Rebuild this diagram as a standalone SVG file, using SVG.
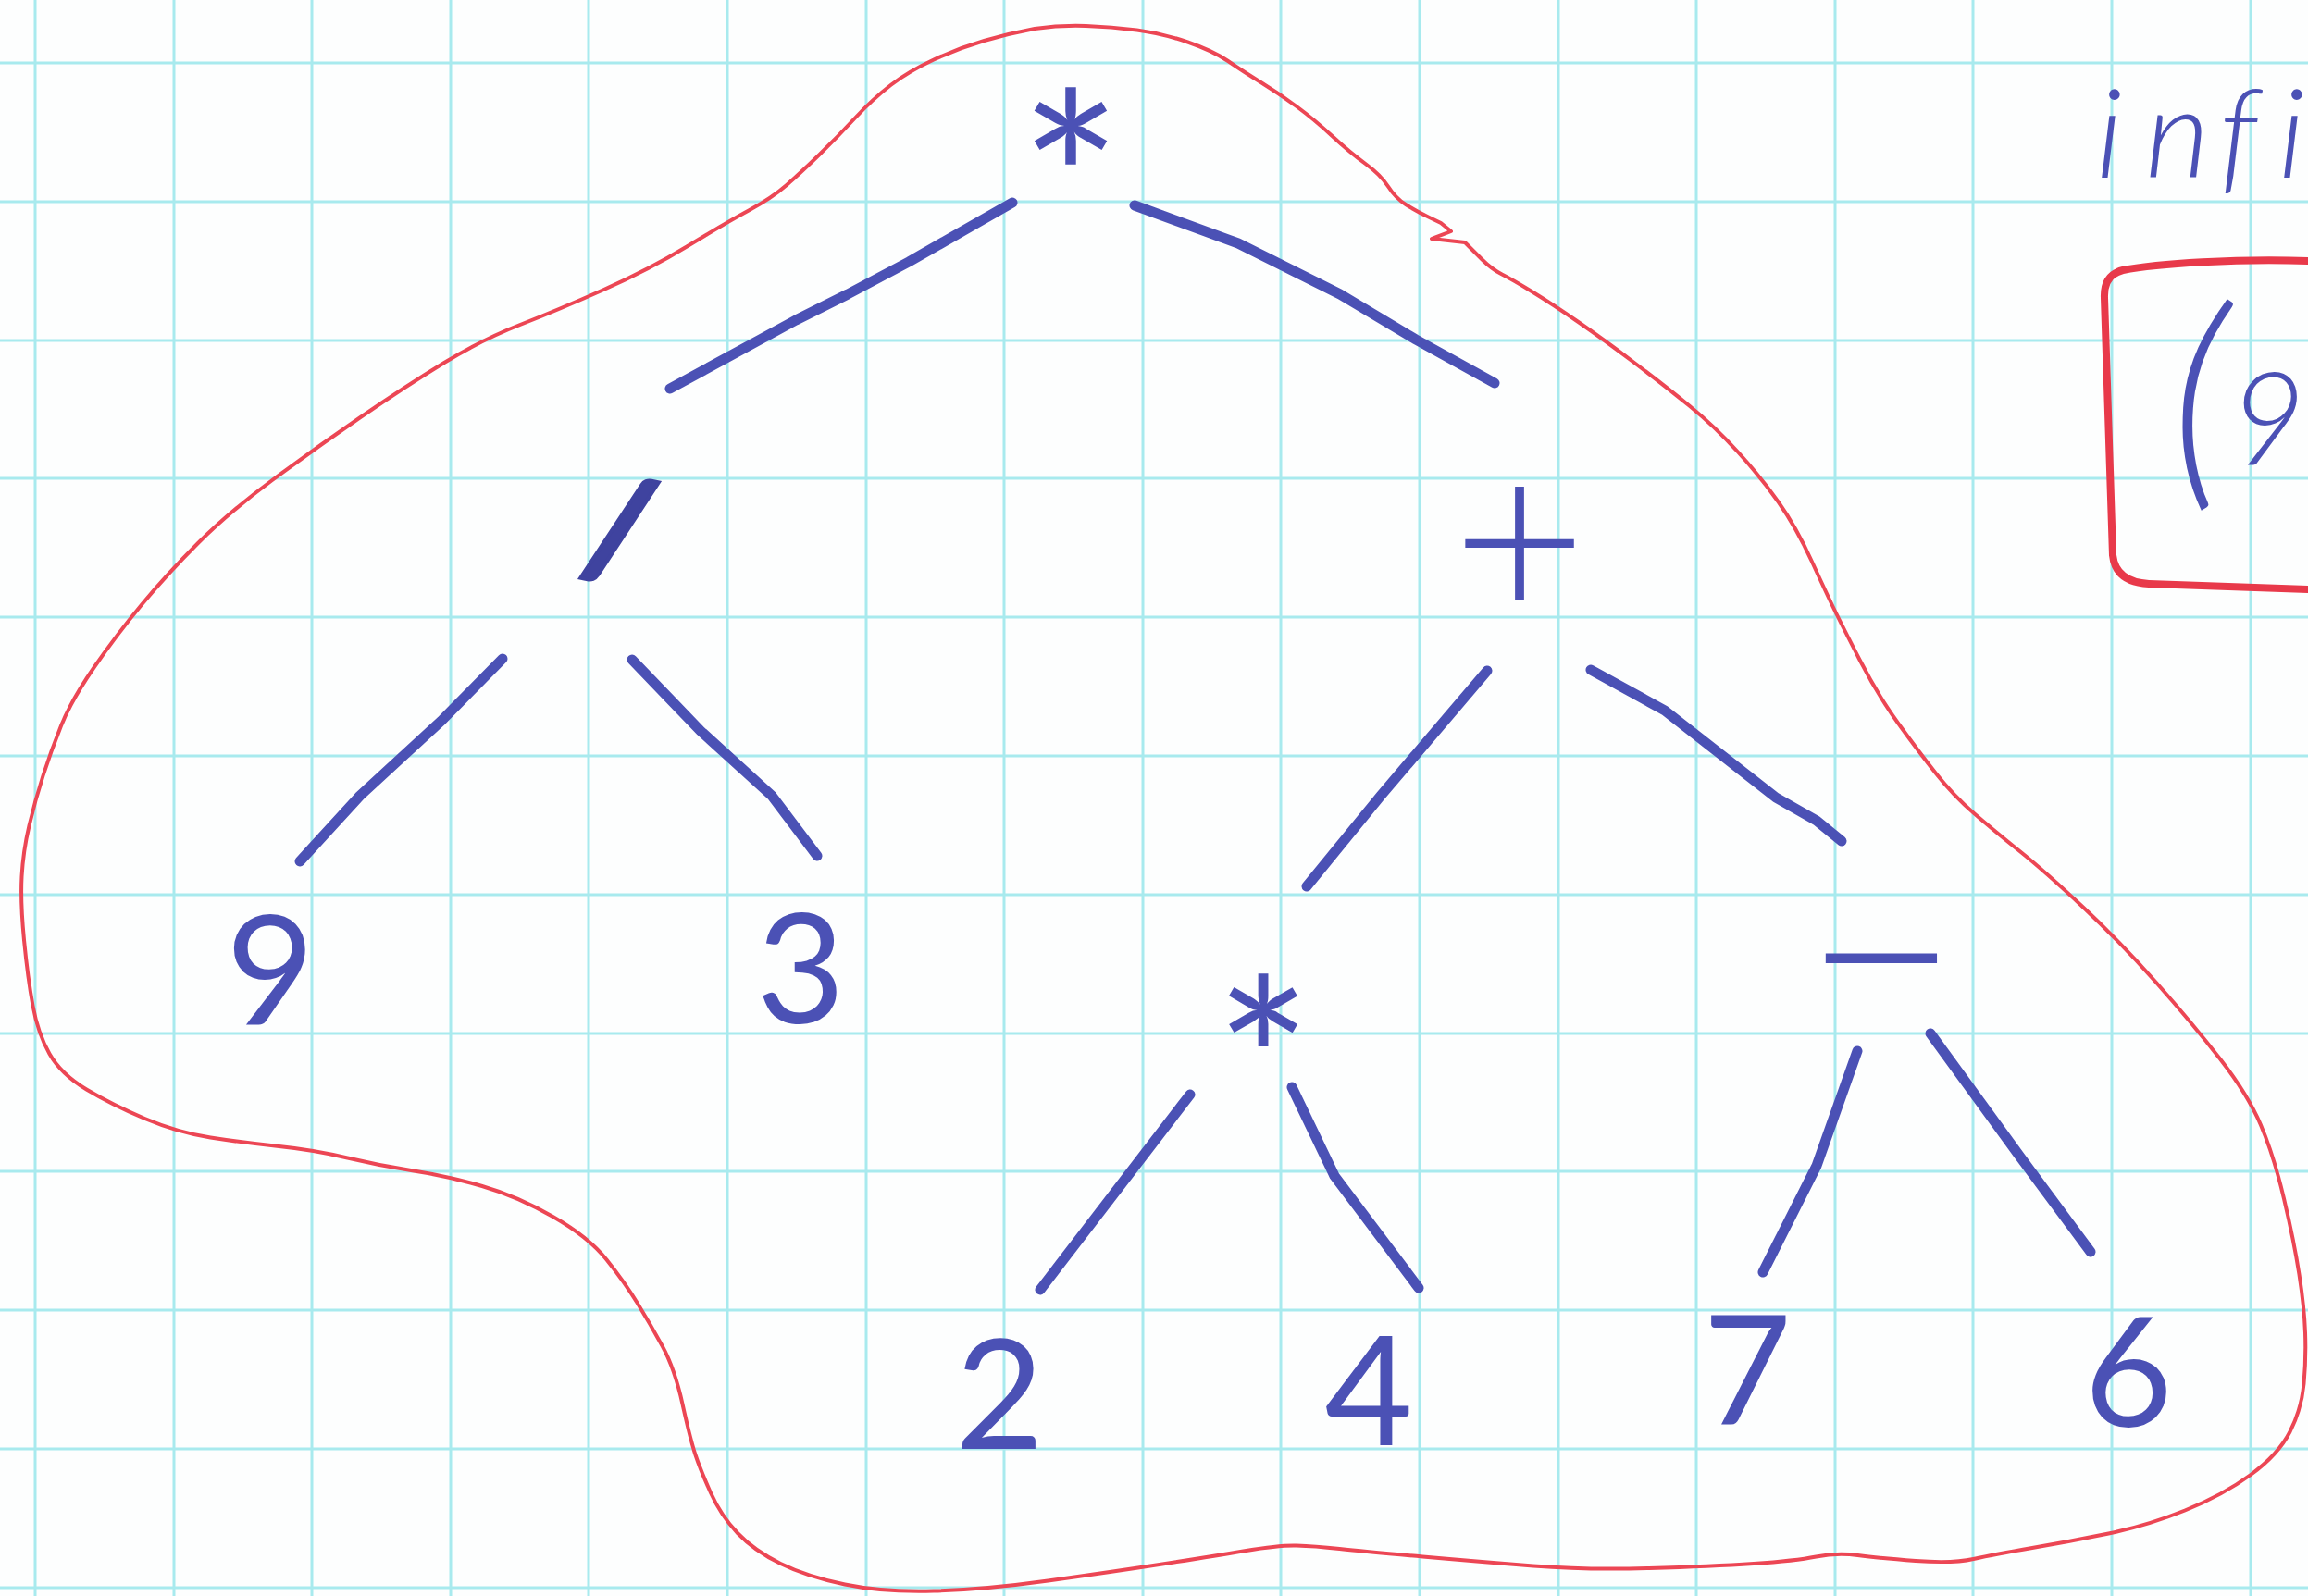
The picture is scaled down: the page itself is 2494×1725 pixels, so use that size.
<svg xmlns="http://www.w3.org/2000/svg" width="2494" height="1725" viewBox="0 0 2494 1725">
<defs>
<style>
.grid line{stroke:#a8eaee;stroke-width:3}
.ink{fill:none;stroke:#4b51b5;stroke-width:11;stroke-linecap:round;stroke-linejoin:round}
.hand{font-family:Lato,"Liberation Sans",sans-serif;font-weight:400;fill:#4b51b5;text-anchor:middle}
.op{font-family:Lato,"Liberation Sans",sans-serif;font-weight:400;fill:#4b51b5;text-anchor:middle}
.opl{font-family:Lato,"Liberation Sans",sans-serif;font-weight:300;fill:#4b51b5;text-anchor:middle}
.slash{font-family:Lato,"Liberation Sans",sans-serif;font-weight:700;fill:#3f439f;stroke:#3f439f;stroke-width:4;text-anchor:middle}
.note{font-family:Lato,"Liberation Sans",sans-serif;font-weight:300;font-style:italic;fill:#4b51b5}
.red{fill:none;stroke:#ec4654;stroke-width:4;stroke-linejoin:round;stroke-linecap:round}
.redbox{fill:none;stroke:#e8394a;stroke-width:8;stroke-linejoin:round;stroke-linecap:round}
</style>
</defs>
<rect width="2494" height="1725" fill="#fdfefe"/>
<g class="grid" id="grid">
<line x1="38" y1="0" x2="38" y2="1725"/><line x1="188" y1="0" x2="188" y2="1725"/><line x1="337" y1="0" x2="337" y2="1725"/><line x1="487" y1="0" x2="487" y2="1725"/><line x1="636" y1="0" x2="636" y2="1725"/><line x1="786" y1="0" x2="786" y2="1725"/><line x1="936" y1="0" x2="936" y2="1725"/><line x1="1085" y1="0" x2="1085" y2="1725"/><line x1="1235" y1="0" x2="1235" y2="1725"/><line x1="1384" y1="0" x2="1384" y2="1725"/><line x1="1534" y1="0" x2="1534" y2="1725"/><line x1="1684" y1="0" x2="1684" y2="1725"/><line x1="1833" y1="0" x2="1833" y2="1725"/><line x1="1983" y1="0" x2="1983" y2="1725"/><line x1="2132" y1="0" x2="2132" y2="1725"/><line x1="2282" y1="0" x2="2282" y2="1725"/><line x1="2432" y1="0" x2="2432" y2="1725"/>
<line x1="0" y1="68" x2="2494" y2="68"/><line x1="0" y1="218" x2="2494" y2="218"/><line x1="0" y1="368" x2="2494" y2="368"/><line x1="0" y1="517" x2="2494" y2="517"/><line x1="0" y1="667" x2="2494" y2="667"/><line x1="0" y1="817" x2="2494" y2="817"/><line x1="0" y1="967" x2="2494" y2="967"/><line x1="0" y1="1117" x2="2494" y2="1117"/><line x1="0" y1="1266" x2="2494" y2="1266"/><line x1="0" y1="1416" x2="2494" y2="1416"/><line x1="0" y1="1566" x2="2494" y2="1566"/><line x1="0" y1="1716" x2="2494" y2="1716"/>
</g>
<g id="outline">
<path class="red" d="M1118,31 Q1146,27 1173.5,28 Q1201,29 1228.5,32.5 Q1256,36 1283.5,45.5 Q1311,55 1327,66 Q1343,77 1362.5,89 Q1382,101 1401,115 Q1420,129 1439.5,147 Q1459,165 1475.5,177 Q1492,189 1500,201.5 Q1508,214 1519,221 Q1530,228 1543.5,234.5 L1557,241 L1568,250 L1547,258 L1583,262 L1590,269 L1601,280 Q1612,291 1623,296.5 Q1634,302 1656,315.5 Q1678,329 1705.5,348 Q1733,367 1766,392 Q1799,417 1826,439 Q1853,461 1878,488.5 Q1903,516 1922,543 Q1941,570 1957.5,606 Q1974,642 1982,658.5 Q1990,675 2009.5,713 Q2029,751 2051,781.5 Q2073,812 2092,836 Q2111,860 2133,879 Q2155,898 2182.5,920 Q2210,942 2251,980.5 Q2292,1019 2330.5,1062.5 Q2369,1106 2399,1144.5 Q2429,1183 2443,1216 Q2457,1249 2468,1295.5 Q2479,1342 2484.5,1377.5 Q2490,1413 2491,1440.5 Q2492,1468 2489.5,1495.5 Q2487,1523 2474.5,1547.5 Q2462,1572 2432,1594 Q2402,1616 2361,1632.5 Q2320,1649 2278.5,1657.5 Q2237,1666 2196,1673 Q2155,1680 2132.5,1685 Q2110,1690 2070,1687 Q2030,1684 2007.5,1681 Q1985,1678 1962.5,1682.5 Q1940,1687 1895,1690 Q1850,1693 1782,1695 Q1714,1697 1657,1692.5 Q1600,1688 1537.5,1682.5 Q1475,1677 1447.5,1674 Q1420,1671 1401,1670.5 Q1382,1670 1346.5,1676 Q1311,1682 1256,1690.5 Q1201,1699 1132.5,1708.5 Q1064,1718 1009,1719.5 Q954,1721 913,1712.5 Q872,1704 843.5,1690 Q815,1676 797,1657 Q779,1638 768,1613.5 Q757,1589 751.5,1572.5 Q746,1556 737.5,1517.5 Q729,1479 715.5,1454.5 Q702,1430 688.5,1408 Q675,1386 655.5,1361.5 Q636,1337 597.5,1315 Q559,1293 521,1282 Q483,1271 447,1265.5 Q411,1260 375.5,1251.5 Q340,1243 301.5,1239 Q263,1235 227.5,1229.5 Q192,1224 156.5,1209 Q121,1194 93.5,1177.5 Q66,1161 53.5,1139 Q41,1117 35.5,1087 Q30,1057 26,1016 Q22,975 23.5,947.5 Q25,920 31.5,892.5 Q38,865 46.5,838.5 Q55,812 66,784.5 Q77,757 101.5,721.5 Q126,686 153.5,653 Q181,620 214,587 Q247,554 293.5,519.5 Q340,485 389.5,451 Q439,417 480,392 Q521,367 562,351 Q603,335 652.5,313 Q702,291 743,266 Q784,241 809,227.5 Q834,214 850,200 Q866,186 885.5,167 Q905,148 924,127.5 Q943,107 962.5,92 Q982,77 1009,64.5 Q1036,52 1063.5,44 Q1091,36 1118,31 Z"/>
</g>
<g id="connectors">
<polyline class="ink" points="1094,219 982,283 916,318 860,346 724,420"/>
<polyline class="ink" points="1226,222 1338,263 1448,318 1530,367 1615,414"/>
<polyline class="ink" points="543,712 477,779 389,860 324,931"/>
<polyline class="ink" points="683,713 757,790 834,860 883,925"/>
<polyline class="ink" points="1607,725 1492,860 1412,958"/>
<polyline class="ink" points="1719,724 1799,768 1919,862 1963,887 1990,909"/>
<polyline class="ink" points="1286,1183 1124,1394"/>
<polyline class="ink" points="1396,1175 1442,1271 1533,1392"/>
<polyline class="ink" points="2007,1136 1963,1260 1905,1375"/>
<polyline class="ink" points="2086,1117 2182,1249 2259,1353"/>
</g>
<g id="node-root"><text class="op" x="1157" y="290" font-size="260">*</text></g>
<g id="node-div"><text class="slash" transform="translate(669,575) rotate(12)" x="0" y="50" font-size="150">/</text></g>
<g id="node-plus"><text class="opl" x="1642" y="672" font-size="250">+</text></g>
<g id="node-9"><text class="hand" x="292" y="1108" font-size="165">9</text></g>
<g id="node-3"><text class="hand" x="865" y="1106" font-size="165">3</text></g>
<g id="node-mul"><text class="op" x="1365" y="1237" font-size="245">*</text></g>
<g id="node-minus"><text class="opl" x="2033" y="1133" font-size="290">−</text></g>
<g id="node-2"><text class="hand" x="1080" y="1566" font-size="165">2</text></g>
<g id="node-4"><text class="hand" x="1479" y="1562" font-size="165">4</text></g>
<g id="node-7"><text class="hand" x="1888" y="1540" font-size="165">7</text></g>
<g id="node-6"><text class="hand" x="2300" y="1542" font-size="165">6</text></g>
<g id="note">
<text class="note" x="2265 2318 2398 2462" y="192" font-size="135">infi</text>
<path class="redbox" d="M2494,282 C2420,279 2330,285 2294,292 Q2273,297 2274,322 L2283,600 Q2286,629 2322,631 L2494,637"/>
<text class="note" y="518" font-size="255"><tspan x="2345">(</tspan><tspan x="2410" y="502" font-size="140">9</tspan></text>
</g>
</svg>
